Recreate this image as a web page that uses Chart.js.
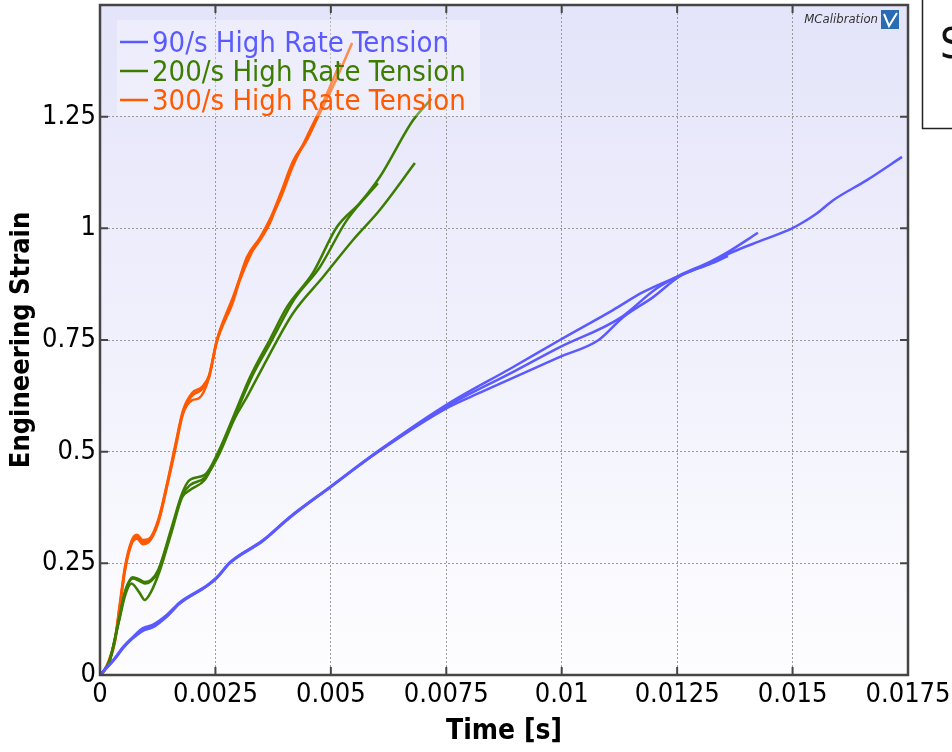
<!DOCTYPE html>
<html lang="en">
<head>
<meta charset="UTF-8">
<title>Engineering Strain vs Time</title>
<script src="https://cdn.jsdelivr.net/npm/chart.js"></script>
<style>
  body { margin: 0; background: #fff; }
  .chart-box { width: 952px; height: 752px; position: relative; }
</style>
</head>
<body>
<div class="chart-box"><canvas id="strainChart"></canvas></div>
<script>
// axis ticks
const timeTicks = [0, 0.0025, 0.005, 0.0075, 0.01, 0.0125, 0.015, 0.0175];
const timeLabels = ['0', '0.0025', '0.005', '0.0075', '0.01', '0.0125', '0.015', '0.0175'];
const strainTicks = [0, 0.25, 0.5, 0.75, 1, 1.25, 1.5];
const strainLabels = ['0', '0.25', '0.5', '0.75', '1', '1.25', ''];

const seriesNames = ['90/s High Rate Tension', '200/s High Rate Tension', '300/s High Rate Tension'];
const seriesColors = ['#5a5aff', '#3c7d00', '#ff5a00'];

// 90/s tests  [time (s), strain]
const rate90_a = [[0,0],[0.0003,0.035],[0.0005,0.063],[0.00071,0.085],[0.00093,0.105],[0.00115,0.113],
  [0.00145,0.135],[0.00173,0.163],[0.00232,0.201],[0.00253,0.219],[0.00282,0.253],[0.00353,0.302],
  [0.00411,0.354],[0.00498,0.421],[0.00606,0.504],[0.00752,0.606],[0.00894,0.689],[0.00996,0.75],
  [0.01111,0.817],[0.01176,0.857],[0.01249,0.891],[0.01321,0.922],[0.0137,0.947],[0.01436,0.974],
  [0.01499,1.0],[0.0152,1.012],[0.01553,1.034],[0.01588,1.063],[0.01661,1.108],[0.01737,1.16]];
const rate90_b = [[0,0],[0.0003,0.033],[0.0005,0.06],[0.00071,0.082],[0.00093,0.099],[0.00115,0.107],
  [0.00145,0.131],[0.00173,0.16],[0.00232,0.199],[0.00253,0.217],[0.00282,0.251],[0.00353,0.3],
  [0.00411,0.352],[0.00498,0.42],[0.00606,0.503],[0.00752,0.602],[0.00894,0.678],[0.00996,0.734],
  [0.01126,0.799],[0.01206,0.866],[0.01256,0.895],[0.01321,0.925],[0.01357,0.945],[0.01425,0.99]];
const rate90_c = [[0,0],[0.0003,0.034],[0.0005,0.061],[0.00071,0.083],[0.00093,0.101],[0.00115,0.109],
  [0.00145,0.132],[0.00173,0.161],[0.00232,0.2],[0.00253,0.218],[0.00282,0.252],[0.00353,0.301],
  [0.00411,0.353],[0.00498,0.42],[0.00606,0.502],[0.00752,0.598],[0.00823,0.632],[0.00996,0.712],
  [0.0108,0.75],[0.01133,0.801],[0.01198,0.846],[0.01256,0.893],[0.01321,0.92],[0.0136,0.938]];

// 200/s tests
const rate200_a = [[0,0],[0.0002,0.03],[0.0004,0.12],[0.00055,0.19],[0.00071,0.219],[0.00085,0.214],
  [0.00097,0.208],[0.0011,0.212],[0.00126,0.235],[0.00155,0.33],[0.00178,0.407],[0.00195,0.437],
  [0.00227,0.448],[0.00256,0.499],[0.00292,0.586],[0.00325,0.667],[0.0037,0.755],[0.00405,0.824],
  [0.00461,0.9],[0.00513,1.003],[0.00563,1.057],[0.00606,1.115],[0.00678,1.242],[0.00718,1.29]];
const rate200_b = [[0,0],[0.0002,0.028],[0.0004,0.115],[0.00055,0.18],[0.00068,0.205],[0.00085,0.185],
  [0.00097,0.168],[0.0011,0.185],[0.0013,0.235],[0.00155,0.32],[0.00178,0.398],[0.00195,0.414],
  [0.00227,0.437],[0.00256,0.495],[0.00292,0.58],[0.0033,0.67],[0.0037,0.745],[0.0042,0.84],
  [0.00476,0.913],[0.00535,1.019],[0.00602,1.101]];
const rate200_c = [[0,0],[0.0002,0.03],[0.0004,0.118],[0.00055,0.187],[0.00071,0.216],[0.00085,0.211],
  [0.00097,0.205],[0.0011,0.21],[0.00126,0.232],[0.00155,0.325],[0.00178,0.402],[0.00195,0.425],
  [0.00227,0.442],[0.00256,0.49],[0.00292,0.575],[0.00318,0.622],[0.00353,0.69],[0.00418,0.81],
  [0.00483,0.891],[0.00548,0.974],[0.00606,1.041],[0.00682,1.146]];

// 300/s tests
const rate300_a = [[0,0],[0.0001,0.012],[0.0002,0.035],[0.00032,0.078],[0.00043,0.16],[0.00054,0.242],
  [0.00069,0.302],[0.0008,0.314],[0.00093,0.302],[0.00105,0.304],[0.00126,0.347],[0.00147,0.437],
  [0.00162,0.51],[0.0018,0.593],[0.00199,0.631],[0.00221,0.645],[0.00236,0.67],[0.00253,0.75],
  [0.00288,0.846],[0.00318,0.929],[0.00347,0.974],[0.00368,1.012],[0.0039,1.07],[0.00418,1.146],
  [0.00448,1.198],[0.00476,1.258],[0.0051,1.33],[0.00546,1.415]];
const rate300_b = [[0,0],[0.0001,0.01],[0.0002,0.03],[0.00032,0.072],[0.00043,0.15],[0.00054,0.232],
  [0.00069,0.295],[0.0008,0.305],[0.00093,0.293],[0.00105,0.297],[0.00126,0.34],[0.00147,0.43],
  [0.00162,0.5],[0.0018,0.585],[0.00199,0.615],[0.00215,0.62],[0.00236,0.665],[0.00253,0.745],
  [0.00288,0.835],[0.00303,0.884],[0.00331,0.951],[0.00353,0.989],[0.0039,1.065],[0.00418,1.14],
  [0.00448,1.205],[0.00476,1.265],[0.0052,1.37]];
const rate300_c = [[0,0],[0.0001,0.011],[0.0002,0.032],[0.00032,0.075],[0.00043,0.155],[0.00054,0.238],
  [0.00069,0.298],[0.0008,0.31],[0.00093,0.298],[0.00105,0.3],[0.00126,0.344],[0.00147,0.434],
  [0.00162,0.505],[0.0018,0.59],[0.00199,0.625],[0.00221,0.64],[0.00236,0.668],[0.00253,0.748],
  [0.00288,0.84],[0.00318,0.935],[0.00347,0.98],[0.00368,1.02],[0.0039,1.075],[0.00418,1.15],
  [0.00448,1.2],[0.00476,1.262],[0.005,1.32]];

const fontFace = "'DejaVu Sans Condensed', 'DejaVu Sans', sans-serif";

function makeSet(points, group) {
  return {
    label: seriesNames[group],
    data: points.map(p => ({ x: p[0], y: p[1] })),
    borderColor: seriesColors[group],
    borderWidth: 2.5,
    pointRadius: 0,
    fill: false,
    cubicInterpolationMode: 'monotone'
  };
}

const datasets = [
  makeSet(rate90_a, 0), makeSet(rate90_b, 0), makeSet(rate90_c, 0),
  makeSet(rate200_a, 1), makeSet(rate200_b, 1), makeSet(rate200_c, 1),
  makeSet(rate300_a, 2), makeSet(rate300_b, 2), makeSet(rate300_c, 2)
];

const decorPlugin = {
  id: 'decor',
  beforeDraw(chart) {
    const { ctx, chartArea: a } = chart;
    const g = ctx.createLinearGradient(0, a.top, 0, a.bottom);
    g.addColorStop(0, '#e4e4fa');
    g.addColorStop(1, '#fdfdff');
    ctx.save();
    ctx.fillStyle = g;
    ctx.fillRect(a.left, a.top, a.right - a.left, a.bottom - a.top);
    ctx.restore();
  },
  afterDatasetsDraw(chart) {
    const { ctx, chartArea: a, scales } = chart;
    ctx.save();
    // inward tick marks
    ctx.strokeStyle = '#454545';
    ctx.lineWidth = 2;
    ctx.beginPath();
    timeTicks.forEach(v => {
      const px = scales.x.getPixelForValue(v);
      ctx.moveTo(px, a.bottom); ctx.lineTo(px, a.bottom - 8);
      ctx.moveTo(px, a.top); ctx.lineTo(px, a.top + 8);
    });
    strainTicks.forEach(v => {
      const py = scales.y.getPixelForValue(v);
      ctx.moveTo(a.left, py); ctx.lineTo(a.left + 8, py);
      ctx.moveTo(a.right, py); ctx.lineTo(a.right - 8, py);
    });
    ctx.stroke();
    // frame
    ctx.lineWidth = 2.5;
    ctx.strokeRect(a.left, a.top, a.right - a.left, a.bottom - a.top);

    // legend
    ctx.fillStyle = 'rgba(255,255,255,0.3)';
    ctx.fillRect(a.left + 17, a.top + 15, 363, 96);
    ctx.font = '29px ' + fontFace;
    ctx.textBaseline = 'middle';
    seriesNames.forEach((name, i) => {
      const y = a.top + 39 + i * 29;
      ctx.strokeStyle = seriesColors[i];
      ctx.lineWidth = 2.5;
      ctx.beginPath();
      ctx.moveTo(a.left + 20, y - 2); ctx.lineTo(a.left + 48, y - 2);
      ctx.stroke();
      ctx.fillStyle = seriesColors[i];
      ctx.fillText(name, a.left + 52, y);
    });

    // logo
    ctx.font = 'italic 13px ' + fontFace;
    ctx.fillStyle = '#333';
    ctx.textAlign = 'right';
    ctx.fillText('MCalibration', a.right - 30, a.top + 15);
    ctx.fillStyle = '#2a6cb4';
    ctx.fillRect(a.right - 27, a.top + 5, 18, 19);
    ctx.strokeStyle = '#fff';
    ctx.lineWidth = 2;
    ctx.beginPath();
    ctx.moveTo(a.right - 24, a.top + 9);
    ctx.lineTo(a.right - 19, a.top + 21);
    ctx.lineTo(a.right - 11, a.top + 8);
    ctx.stroke();
    ctx.restore();
  },
  afterDraw(chart) {
    const { ctx } = chart;
    ctx.save();
    ctx.strokeStyle = '#222';
    ctx.lineWidth = 1.5;
    ctx.strokeRect(922.5, -2, 40, 130.5);
    ctx.fillStyle = '#111';
    ctx.font = '42px ' + fontFace;
    ctx.textBaseline = 'alphabetic';
    ctx.fillText('S', 940, 58);
    ctx.restore();
  }
};

new Chart(document.getElementById('strainChart'), {
  type: 'line',
  data: { datasets: datasets },
  options: {
    responsive: true,
    maintainAspectRatio: false,
    animation: false,
    layout: { padding: { top: 5, right: 44, left: 0, bottom: 0 } },
    plugins: { legend: { display: false }, tooltip: { enabled: false } },
    scales: {
      x: {
        type: 'linear', min: 0, max: 0.0175,
        afterBuildTicks: s => { s.ticks = timeTicks.map(v => ({ value: v })); },
        afterFit: s => { s.height = 77; s.paddingRight = 0; s.paddingLeft = 0; },
        ticks: {
          callback: (v, i) => timeLabels[i],
          font: { family: fontFace, size: 27 }, color: '#000',
          padding: 4, maxRotation: 0, autoSkip: false
        },
        grid: { color: '#9a9a9a', lineWidth: 1, drawTicks: false },
        border: { display: false, dash: [2, 2] },
        title: {
          display: true, text: 'Time [s]', color: '#000',
          font: { family: fontFace, size: 28, weight: 'bold' },
          padding: { top: 0, bottom: 3 }
        }
      },
      y: {
        type: 'linear', min: 0, max: 1.5,
        afterBuildTicks: s => { s.ticks = strainTicks.map(v => ({ value: v })); },
        afterFit: s => { s.width = 100; s.paddingTop = 0; s.paddingBottom = 0; },
        ticks: {
          callback: (v, i) => strainLabels[i],
          font: { family: fontFace, size: 27 }, color: '#000',
          padding: 4, autoSkip: false
        },
        grid: { color: '#9a9a9a', lineWidth: 1, drawTicks: false },
        border: { display: false, dash: [2, 2] },
        title: {
          display: true, text: 'Engineering Strain', color: '#000',
          font: { family: fontFace, size: 27, weight: 'bold' },
          padding: { top: 6, bottom: 0 }
        }
      }
    }
  },
  plugins: [decorPlugin]
});
</script>
</body>
</html>
